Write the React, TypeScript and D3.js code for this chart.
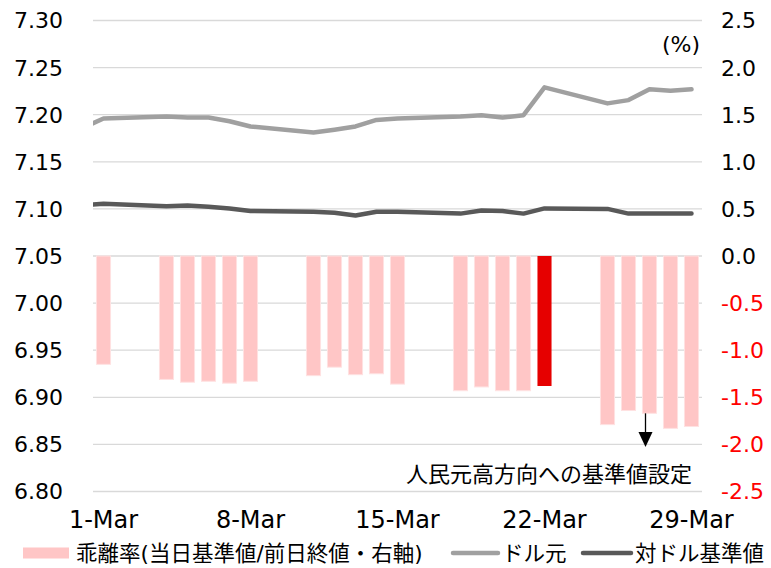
import { useEffect, useRef } from 'react';
import * as d3 from 'd3';

// trading days (line series also carries the last print of February, clipped at the edge)
const lineDays = [
  '2024-02-29', '2024-03-01', '2024-03-04', '2024-03-05', '2024-03-06', '2024-03-07', '2024-03-08',
  '2024-03-11', '2024-03-12', '2024-03-13', '2024-03-14', '2024-03-15',
  '2024-03-18', '2024-03-19', '2024-03-20', '2024-03-21', '2024-03-22',
  '2024-03-25', '2024-03-26', '2024-03-27', '2024-03-28', '2024-03-29',
];
const usdCny = [
  7.186, 7.196, 7.198, 7.197, 7.197, 7.193, 7.1875,
  7.181, 7.184, 7.1875, 7.1945, 7.196,
  7.198, 7.1995, 7.197, 7.1995, 7.229,
  7.212, 7.2155, 7.227, 7.2255, 7.227,
];
const fixing = [
  7.104, 7.1055, 7.1027, 7.1037, 7.1023, 7.1005, 7.0977,
  7.097, 7.096, 7.093, 7.097, 7.097,
  7.095, 7.0984, 7.0977, 7.095, 7.1005,
  7.1, 7.095, 7.095, 7.095, 7.0952,
];
const barDays = lineDays.slice(1);
const deviation = [
  -1.15, -1.31, -1.34, -1.33, -1.35, -1.33,
  -1.27, -1.18, -1.26, -1.25, -1.36,
  -1.43, -1.39, -1.43, -1.43, -1.38,
  -1.79, -1.64, -1.67, -1.83, -1.81,
];
const highlightDay = '2024-03-22';
const arrowDay = '2024-03-27';
const tickDays = ['2024-03-01', '2024-03-08', '2024-03-15', '2024-03-22', '2024-03-29'];
const leftTicks = [6.8, 6.85, 6.9, 6.95, 7.0, 7.05, 7.1, 7.15, 7.2, 7.25, 7.3];
const rightTicks = [-2.5, -2, -1.5, -1, -0.5, 0, 0.5, 1, 1.5, 2, 2.5];
const legendLabels = ['乖離率(当日基準値/前日終値・右軸)', 'ドル元', '対ドル基準値'];
const note = '人民元高方向への基準値設定';

const FONT = '"DejaVu Sans", "Noto Sans CJK JP", sans-serif';
const PINK = '#FFC6C6';
const RED = '#E60000';
const LIGHT = '#A0A0A0';
const DARK = '#595959';

export default function App() {
  const svgRef = useRef<SVGSVGElement>(null);

  useEffect(() => {
    if (!svgRef.current) return;
    const W = 771;
    const H = 568;
    const left = 93;
    const right = 702;
    const top = 20.5;
    const bottom = 491.5;

    const svg = d3.select(svgRef.current);
    svg.selectAll('*').remove();
    svg.attr('width', W).attr('height', H).attr('viewBox', `0 0 ${W} ${H}`);

    const day = (s: string) => new Date(s + 'T12:00:00Z');
    const x = d3
      .scaleUtc()
      .domain([new Date('2024-03-01T00:00:00Z'), new Date('2024-03-30T00:00:00Z')])
      .range([left, right]);
    const dayW = (right - left) / 29;
    const yL = d3.scaleLinear().domain([6.8, 7.3]).range([bottom, top]);
    const yR = d3.scaleLinear().domain([-2.5, 2.5]).range([bottom, top]);

    svg
      .append('defs')
      .append('clipPath')
      .attr('id', 'plot')
      .append('rect')
      .attr('x', left)
      .attr('y', 0)
      .attr('width', right - left)
      .attr('height', H);

    // gridlines
    svg
      .append('g')
      .selectAll('line')
      .data(leftTicks)
      .join('line')
      .attr('x1', left)
      .attr('x2', right)
      .attr('y1', (d) => yL(d))
      .attr('y2', (d) => yL(d))
      .attr('stroke', '#D9D9D9')
      .attr('stroke-width', 1.3);

    // left axis labels
    svg
      .append('g')
      .selectAll('text')
      .data(leftTicks)
      .join('text')
      .attr('x', 63)
      .attr('y', (d) => yL(d))
      .attr('dy', '0.36em')
      .attr('text-anchor', 'end')
      .attr('font-family', FONT)
      .attr('font-size', 22)
      .attr('fill', '#000')
      .text((d) => d.toFixed(2));

    // right axis labels
    svg
      .append('g')
      .selectAll('text')
      .data(rightTicks)
      .join('text')
      .attr('x', 721)
      .attr('y', (d) => yR(d))
      .attr('dy', '0.36em')
      .attr('font-family', FONT)
      .attr('font-size', 22)
      .attr('fill', (d) => (d < 0 ? '#FF0000' : '#000'))
      .text((d) => (d < 0 ? '-' + Math.abs(d).toFixed(1) : d.toFixed(1)));

    svg
      .append('text')
      .attr('x', 700)
      .attr('y', 44)
      .attr('dy', '0.36em')
      .attr('text-anchor', 'end')
      .attr('font-family', FONT)
      .attr('font-size', 22)
      .text('(%)');

    // x labels
    svg
      .append('g')
      .selectAll('text')
      .data(tickDays)
      .join('text')
      .attr('x', (d) => x(day(d)))
      .attr('y', 519)
      .attr('dy', '0.36em')
      .attr('text-anchor', 'middle')
      .attr('font-family', FONT)
      .attr('font-size', 24)
      .text((d) => d3.utcFormat('%-d-%b')(day(d)));

    // bars
    const bw = dayW * 0.67;
    svg
      .append('g')
      .selectAll('rect')
      .data(barDays.map((d, i) => ({ d, v: deviation[i] })))
      .join('rect')
      .attr('x', (p) => x(day(p.d)) - bw / 2)
      .attr('y', yR(0))
      .attr('width', bw)
      .attr('height', (p) => yR(p.v) - yR(0))
      .attr('fill', (p) => (p.d === highlightDay ? RED : PINK))
      .attr('stroke', (p) => (p.d === highlightDay ? 'none' : '#FFE2E2'))
      .attr('stroke-width', 1);

    // lines
    const line = d3
      .line<number>()
      .x((_, i) => x(day(lineDays[i])))
      .y((v) => yL(v));
    const lines = svg.append('g').attr('clip-path', 'url(#plot)');
    lines
      .append('path')
      .datum(usdCny)
      .attr('fill', 'none')
      .attr('stroke', LIGHT)
      .attr('stroke-width', 4.5)
      .attr('stroke-linecap', 'round')
      .attr('stroke-linejoin', 'round')
      .attr('d', line);
    lines
      .append('path')
      .datum(fixing)
      .attr('fill', 'none')
      .attr('stroke', DARK)
      .attr('stroke-width', 4.5)
      .attr('stroke-linecap', 'round')
      .attr('stroke-linejoin', 'round')
      .attr('d', line);

    // arrow annotation
    const ai = barDays.indexOf(arrowDay);
    const ax = x(day(arrowDay)) - 4;
    const ay = yR(deviation[ai]);
    svg
      .append('line')
      .attr('x1', ax)
      .attr('x2', ax)
      .attr('y1', ay)
      .attr('y2', 434)
      .attr('stroke', '#000')
      .attr('stroke-width', 1.3);
    svg
      .append('path')
      .attr('d', `M${ax - 7},432 L${ax + 7},432 L${ax},447 Z`)
      .attr('fill', '#000');
    svg
      .append('text')
      .attr('x', 692)
      .attr('y', 474)
      .attr('dy', '0.36em')
      .attr('text-anchor', 'end')
      .attr('font-family', FONT)
      .attr('font-size', 22)
      .text(note);

    // legend
    const lg = svg.append('g').attr('font-family', FONT).attr('font-size', 21.5);
    const ly = 553;
    lg.append('rect').attr('x', 23).attr('y', ly - 5.5).attr('width', 46).attr('height', 11).attr('fill', PINK);
    lg.append('text').attr('x', 76).attr('y', ly).attr('dy', '0.36em').text(legendLabels[0]);
    lg.append('line')
      .attr('x1', 453).attr('x2', 498).attr('y1', ly).attr('y2', ly)
      .attr('stroke', LIGHT).attr('stroke-width', 4.5).attr('stroke-linecap', 'round');
    lg.append('text').attr('x', 502).attr('y', ly).attr('dy', '0.36em').text(legendLabels[1]);
    lg.append('line')
      .attr('x1', 583).attr('x2', 631).attr('y1', ly).attr('y2', ly)
      .attr('stroke', DARK).attr('stroke-width', 4.5).attr('stroke-linecap', 'round');
    lg.append('text').attr('x', 635).attr('y', ly).attr('dy', '0.36em').text(legendLabels[2]);
  }, []);

  return (
    <div style={{ position: 'absolute', left: 0, top: 0, background: '#fff' }}>
      <svg ref={svgRef} style={{ display: 'block' }} />
    </div>
  );
}
